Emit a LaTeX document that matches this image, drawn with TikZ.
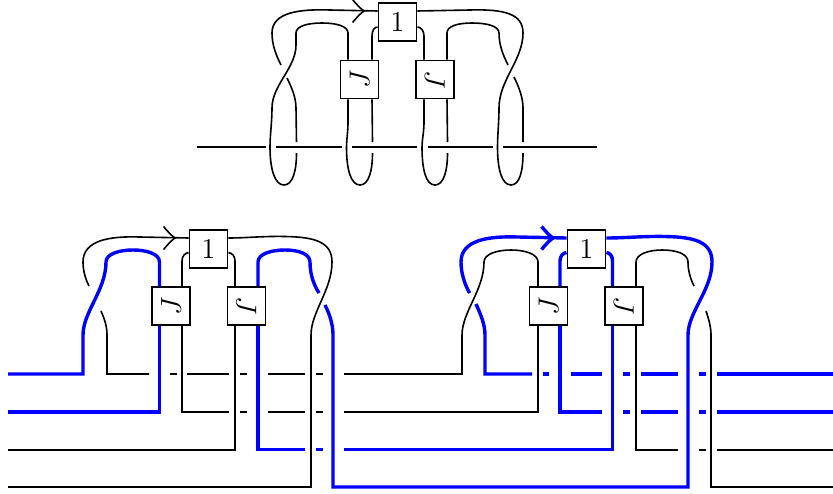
\documentclass[tikz,border=0pt]{standalone}
\tikzset{
  x=0.5pt,y=-0.5pt,
  blk/.style={line width=0.8pt,black,line join=miter},
  blu/.style={line width=1.7pt,blue,line join=miter},
  tbox/.style={draw=black,line width=0.95pt,fill=white,minimum width=19pt,minimum height=19pt,inner sep=0pt,font=\fontsize{14}{14}\selectfont},
}
\newcommand{\chev}[3]{\draw[#1] (#2-11.5,#3-11.5) .. controls (#2-6,#3-5) and (#2-3,#3-2) .. (#2,#3) .. controls (#2-3,#3+2) and (#2-6,#3+5) .. (#2-11.5,#3+11.5);}
\begin{document}
\begin{tikzpicture}
\useasboundingbox (0,0) rectangle (833,493);
% top diagram
\node[tbox] (t1) at (397.5,22) {$1$};
\node[tbox] (tJ) at (359.5,79.5) {\rotatebox{90}{$J$}};
\node[tbox] (tL) at (435,79.5) {\rotatebox{-90}{$J$}};
\draw[blk] (197,147) -- (266,147);
\draw[blk] (276,147) -- (342,147);
\draw[blk] (352,147) -- (417,147);
\draw[blk] (428,147) -- (493,147);
\draw[blk] (503,147) -- (597,147);
% left pair
\draw[blk] (t1.west |- 0,11) -- (330,10) .. controls (300,9) and (272,12) .. (272,33) .. controls (272,45) and (276,55) .. (281,65);
\chev{blk}{364}{11}
\draw[blk] (348,0 |- tJ.north) -- (348,33) .. controls (348,26) and (336,23) .. (322,23) .. controls (308,23) and (296,26) .. (296,33) -- (296,45) .. controls (296,68) and (272,85) .. (272,108) .. controls (272,122) and (270,135) .. (270,147) .. controls (270,170) and (275,185) .. (284,185) .. controls (293,185) and (296.5,170) .. (296.5,153);
\draw[blk] (287,78) .. controls (292,88) and (296,98) .. (296,108) -- (296.5,142);
\draw[blk] (348,0 |- tJ.south) -- (348,122) .. controls (348,132) and (346.5,140) .. (346.5,147) .. controls (346.5,170) and (351,185) .. (360,185) .. controls (369,185) and (372.5,170) .. (372.5,153);
\draw[blk] (372,0 |- tJ.south) -- (372.5,142);
\draw[blk] (t1.west |- 0,27) .. controls (374,27) and (372,31) .. (372,36) -- (372,0 |- tJ.north);
% right pair
\draw[blk] (t1.east |- 0,11) -- (470,10) .. controls (505,9) and (523,14) .. (523,33) .. controls (523,60) and (499,80) .. (499,108) .. controls (499,122) and (497.5,135) .. (497.5,147) .. controls (497.5,170) and (502,185) .. (511,185) .. controls (520,185) and (523,170) .. (523,153);
\draw[blk] (447,0 |- tL.north) -- (447,33) .. controls (447,26) and (458,23) .. (472,23) .. controls (487,23) and (499,26) .. (499,33) .. controls (499,45) and (503,55) .. (508,65);
\draw[blk] (514,77) .. controls (519,87) and (523,98) .. (523,108) -- (523,142);
\draw[blk] (t1.east |- 0,27) .. controls (421,27) and (424,31) .. (424,36) -- (424,0 |- tL.north);
\draw[blk] (424,0 |- tL.south) -- (424,122) .. controls (424,132) and (422,140) .. (422,147) .. controls (422,170) and (426,185) .. (435,185) .. controls (444,185) and (447.5,170) .. (447.5,153);
\draw[blk] (447,0 |- tL.south) -- (447.5,142);
% bottom left
\node[tbox] (a1) at (208.5,249) {$1$};
\node[tbox] (aJ) at (171,306) {\rotatebox{90}{$J$}};
\node[tbox] (aL) at (246.5,306) {\rotatebox{-90}{$J$}};
% bottom right
\node[tbox] (b1) at (586.5,249) {$1$};
\node[tbox] (bJ) at (548.5,306) {\rotatebox{90}{$J$}};
\node[tbox] (bL) at (624,306) {\rotatebox{-90}{$J$}};
% black strands, left tangle
\draw[blk] (a1.west |- 0,238) -- (140,237) .. controls (110,236) and (83,240) .. (83,262) .. controls (83,270) and (85,278) .. (89,286);
\chev{blk}{175}{238}
\draw[blk] (101,311) .. controls (105,320) and (107,327) .. (107,335) -- (107,374) -- (149,374);
\draw[blk] (170,374) -- (177,374);
\draw[blk] (187,374) -- (229,374);
\draw[blk] (240,374) -- (247,374);
\draw[blk] (268,374) -- (305,374);
\draw[blk] (316,374) -- (323,374);
\draw[blk] (344,374) -- (462,374) -- (462,335) .. controls (462,312) and (484,290) .. (484,262) .. controls (484,254) and (497,250) .. (511,250) .. controls (525,250) and (538,254) .. (538,262) -- (538,0 |- bJ.north);
\draw[blk] (538,0 |- bJ.south) -- (538,412) -- (344,412);
\draw[blk] (323,412) -- (316,412);
\draw[blk] (305,412) -- (268,412);
\draw[blk] (247,412) -- (240,412);
\draw[blk] (229,412) -- (182,412) -- (182,0 |- aJ.south);
\draw[blk] (182,0 |- aJ.north) -- (182,261) .. controls (182,256) and (185,253) .. (a1.west |- 0,252.5);
\draw[blk] (8,449.7) -- (235,449.7) -- (235,0 |- aL.south);
\draw[blk] (235,0 |- aL.north) -- (235,261) .. controls (235,256) and (232,253) .. (a1.east |- 0,252.5);
\draw[blk] (8,487) -- (311,487) -- (311,335) .. controls (311,312) and (332,290) .. (332,262) .. controls (332,242) and (315,237) .. (285,236.5) .. controls (265,236) and (245,238) .. (a1.east |- 0,238);
% black strands, right tangle
\draw[blk] (636,0 |- bL.south) -- (636,449.7) -- (678,449.7);
\draw[blk] (699,449.7) -- (706,449.7);
\draw[blk] (717,449.7) -- (833,449.7);
\draw[blk] (636,0 |- bL.north) -- (636,262) .. controls (636,254) and (649,250) .. (662,250) .. controls (677,250) and (688,254) .. (688,262) .. controls (688,270) and (690,278) .. (694,286);
\draw[blk] (706,311) .. controls (709,320) and (711,327) .. (711,335) -- (711,487) -- (833,487);
% blue, left tangle
\draw[blu] (8,374) -- (83,374) -- (83,335) .. controls (83,312) and (106,290) .. (106,262) .. controls (106,254) and (119,250) .. (133,250) .. controls (147,250) and (159.5,254) .. (159.5,262) -- (159.5,0 |- aJ.north);
\draw[blu] (159.5,0 |- aJ.south) -- (159.5,412) -- (8,412);
\draw[blu] (258,0 |- aL.north) -- (258,262) .. controls (258,254) and (271,250) .. (285,250) .. controls (299,250) and (310,254) .. (310,262) .. controls (310,275) and (314,285) .. (319,293);
\draw[blu] (325,305) .. controls (330,315) and (333,325) .. (333,335) -- (333,487) -- (688,487) -- (688,335) .. controls (688,312) and (712,290) .. (712,262) .. controls (712,242) and (695,237) .. (665,236.5) .. controls (645,236) and (625,238) .. (b1.east |- 0,238);
\draw[blu] (258,0 |- aL.south) -- (258,449.7) -- (305,449.7);
\draw[blu] (316,449.7) -- (323,449.7);
\draw[blu] (344,449.7) -- (612.5,449.7) -- (612.5,0 |- bL.south);
\draw[blu] (612.5,0 |- bL.north) -- (612.5,261) .. controls (612.5,256) and (610,253) .. (b1.east |- 0,252.5);
% blue, right tangle
\draw[blu] (b1.west |- 0,238) -- (518,237) .. controls (488,236) and (461,240) .. (461,262) .. controls (461,272) and (464,283) .. (469.5,293);
\chev{blu}{553}{238}
\draw[blu] (476,304) .. controls (481,315) and (485,325) .. (485,335) -- (485,374) -- (532,374);
\draw[blu] (543,374) -- (549,374);
\draw[blu] (571,374) -- (602,374);
\draw[blu] (623,374) -- (630,374);
\draw[blu] (641,374) -- (678,374);
\draw[blu] (699,374) -- (706,374);
\draw[blu] (717,374) -- (833,374);
\draw[blu] (560,0 |- bJ.south) -- (560,412) -- (602,412);
\draw[blu] (623,412) -- (630,412);
\draw[blu] (641,412) -- (678,412);
\draw[blu] (699,412) -- (706,412);
\draw[blu] (717,412) -- (833,412);
\draw[blu] (560,0 |- bJ.north) -- (560,261) .. controls (560,256) and (563,253) .. (b1.west |- 0,252.5);
\end{tikzpicture}
\end{document}
